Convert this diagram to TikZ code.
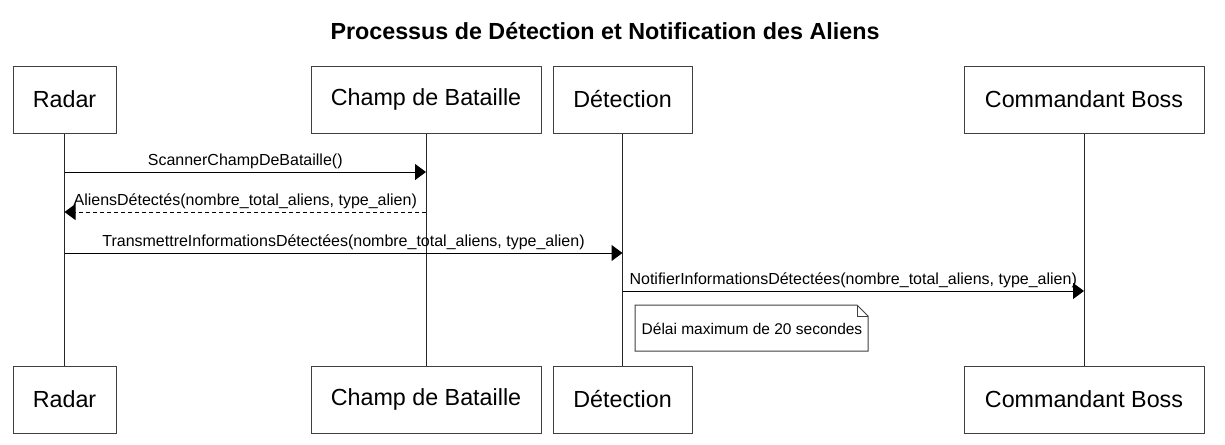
\documentclass[tikz,border=0pt]{standalone}
\usepackage{fontspec}
\setmainfont{Liberation Sans}
\usetikzlibrary{arrows.meta}

\begin{document}
\begin{tikzpicture}[x=1pt,y=-1pt,>={Triangle[length=11pt,width=16pt]},line width=1pt]
\tikzset{
  actor/.style={draw=black!75,fill=white,minimum height=67pt,inner sep=0pt,font=\fontsize{23.3}{27}\selectfont},
  msg/.style={midway,above,inner sep=2.5pt,font=\fontsize{16}{19}\selectfont},
  life/.style={draw=black!85},
}
\useasboundingbox (0,0) rectangle (1225,444);
\node[font=\bfseries\fontsize{23.3}{27}\selectfont] (title) at (605,31) {Processus de Détection et Notification des Aliens};
% participants
\node[actor,minimum width=103pt] (radarT) at (64.5,99.5) {Radar};
\node[actor,minimum width=230pt] (champT) at (426,99.5) {Champ de Bataille};
\node[actor,minimum width=139pt] (detT) at (622.5,99.5) {Détection};
\node[actor,minimum width=240pt] (bossT) at (1084,99.5) {Commandant Boss};
\node[actor,minimum width=103pt] (radarB) at (64.5,399.5) {Radar};
\node[actor,minimum width=230pt] (champB) at (426,399.5) {Champ de Bataille};
\node[actor,minimum width=139pt] (detB) at (622.5,399.5) {Détection};
\node[actor,minimum width=240pt] (bossB) at (1084,399.5) {Commandant Boss};
% lifelines
\draw[life] (radarT) -- (radarB);
\draw[life] (champT) -- (champB);
\draw[life] (detT) -- (detB);
\draw[life] (bossT) -- (bossB);
% messages
\coordinate (m1a) at (radarT |- 0,172);
\coordinate (m1b) at (champT |- 0,172);
\coordinate (m2a) at (champT |- 0,212);
\coordinate (m2b) at (radarT |- 0,212);
\coordinate (m3a) at (radarT |- 0,253);
\coordinate (m3b) at (detT |- 0,253);
\coordinate (m4a) at (detT |- 0,291);
\coordinate (m4b) at (bossT |- 0,291);
\draw[->] (m1a) -- node[msg] {ScannerChampDeBataille()} (m1b);
\draw[->,dash pattern=on 4pt off 3pt] (m2a) -- node[msg] {AliensDétectés(nombre\_total\_aliens, type\_alien)} (m2b);
\draw[->] (m3a) -- node[msg] {TransmettreInformationsDétectées(nombre\_total\_aliens, type\_alien)} (m3b);
\draw[->] (m4a) -- node[msg] {NotifierInformationsDétectées(nombre\_total\_aliens, type\_alien)} (m4b);
% note
\draw[draw=black!75,fill=white] (635,305) -- (857,305) -- (868,316) -- (868,351) -- (635,351) -- cycle;
\draw[draw=black!75] (857,305) -- (857,316) -- (868,316);
\node[font=\fontsize{15.5}{18}\selectfont] (note) at (752,329) {Délai maximum de 20 secondes};
\end{tikzpicture}
\end{document}
